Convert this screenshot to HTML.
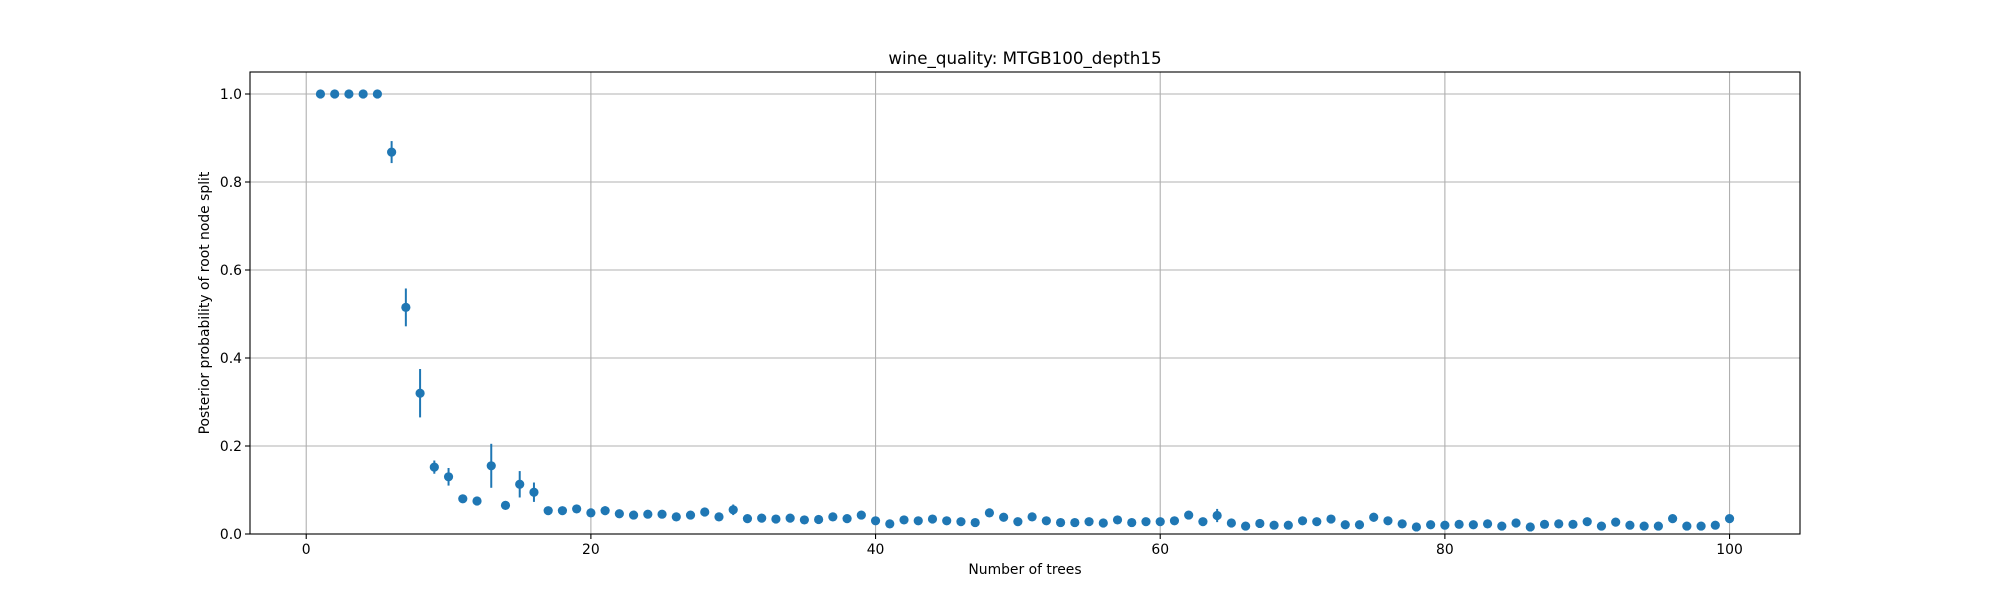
<!DOCTYPE html>
<html><head><meta charset="utf-8"><style>
body{margin:0;background:#fff;}
svg text{font-family:"DejaVu Sans","Liberation Sans",sans-serif;fill:#000;}
</style></head><body>
<svg id="chart" width="2000" height="600" xmlns="http://www.w3.org/2000/svg">
<rect width="2000" height="600" fill="#fff"/>
<g id="grid"></g>
<g id="marks"></g>
<rect x="250" y="72" width="1550" height="462" fill="none" stroke="#000" stroke-width="1.1"/>
<g id="ticks"></g>
<text x="1025" y="64" font-size="16.7" text-anchor="middle">wine_quality: MTGB100_depth15</text>
<text x="1025" y="574" font-size="13.9" text-anchor="middle">Number of trees</text>
<text transform="translate(209,303) rotate(-90)" font-size="13.9" text-anchor="middle">Posterior probability of root node split</text>
</svg>
<script>
const xTicks=[0,20,40,60,80,100];
const yTicks=[0.0,0.2,0.4,0.6,0.8,1.0];
const yTickLabels=["0.0","0.2","0.4","0.6","0.8","1.0"];
const probs=[1,1,1,1,1,0.868,0.515,0.32,0.152,0.13,0.08,0.075,0.155,0.065,0.113,0.095,0.053,0.053,0.057,0.048,
0.053,0.046,0.043,0.045,0.045,0.039,0.043,0.05,0.039,0.055,0.035,0.036,0.034,0.036,0.032,0.033,0.039,0.035,0.043,0.03,
0.023,0.032,0.03,0.034,0.03,0.028,0.026,0.048,0.038,0.028,0.039,0.03,0.026,0.026,0.028,0.025,0.032,0.026,0.028,0.028,
0.03,0.043,0.028,0.042,0.025,0.018,0.024,0.02,0.02,0.03,0.028,0.034,0.021,0.021,0.038,0.03,0.023,0.016,0.021,0.02,
0.022,0.021,0.023,0.018,0.025,0.016,0.022,0.023,0.022,0.028,0.018,0.027,0.02,0.018,0.018,0.035,0.018,0.018,0.02,0.035];
const errs=[0,0,0,0,0,0.025,0.043,0.055,0.015,0.02,0.004,0.004,0.05,0.004,0.03,0.022,0.004,0.004,0.004,0.004,
0.01,0.004,0.004,0.004,0.005,0.004,0.004,0.006,0.004,0.012,0.004,0.004,0.004,0.004,0.004,0.004,0.004,0.004,0.005,0.004,
0.004,0.004,0.004,0.004,0.004,0.004,0.004,0.005,0.008,0.004,0.004,0.004,0.004,0.004,0.004,0.004,0.004,0.004,0.004,0.004,
0.004,0.005,0.004,0.015,0.004,0.004,0.004,0.004,0.004,0.004,0.004,0.004,0.004,0.004,0.01,0.004,0.004,0.004,0.004,0.004,
0.004,0.004,0.004,0.004,0.004,0.004,0.004,0.004,0.004,0.004,0.004,0.004,0.004,0.004,0.004,0.008,0.004,0.004,0.004,0.005];
const NS="http://www.w3.org/2000/svg";
const L=250,R=1800,T=72,B=534,xmin=-3.95,xmax=104.95,ymin=0,ymax=1.05;
const xs=v=>L+(v-xmin)/(xmax-xmin)*(R-L);
const ys=v=>B-(v-ymin)/(ymax-ymin)*(B-T);
function mk(tag,attrs,parent){const e=document.createElementNS(NS,tag);for(const k in attrs)e.setAttribute(k,attrs[k]);parent.appendChild(e);return e;}
const grid=document.getElementById('grid'),ticks=document.getElementById('ticks'),marks=document.getElementById('marks');
xTicks.forEach(t=>{const x=xs(t);
 const g=mk('line',{x1:x,x2:x,y1:T,y2:B,stroke:'#b0b0b0','stroke-width':1.1},grid);
 
 
 const tk=mk('line',{x1:x,x2:x,y1:B,y2:B+5,stroke:'#000','stroke-width':1.1},ticks);
 
 
 const tx=mk('text',{x:x,y:B+20,'font-size':13.9,'text-anchor':'middle'},ticks);tx.textContent=t;
 
 
});
yTicks.forEach((t,i)=>{const y=ys(t);
 const g=mk('line',{x1:L,x2:R,y1:y,y2:y,stroke:'#b0b0b0','stroke-width':1.1},grid);
 
 
 const tk=mk('line',{x1:L-5,x2:L,y1:y,y2:y,stroke:'#000','stroke-width':1.1},ticks);
 
 
 const tx=mk('text',{x:L-8,y:y+5,'font-size':13.9,'text-anchor':'end'},ticks);tx.textContent=yTickLabels[i];
 
 
});
probs.forEach((p,i)=>{const n=i+1,x=xs(n),e=errs[i];
 if(e>0){const l=mk('line',{x1:x,x2:x,y1:ys(p-e),y2:ys(p+e),stroke:'#1f77b4','stroke-width':2},marks);
 
 }
 const c=mk('circle',{cx:x,cy:ys(p),r:4.6,fill:'#1f77b4'},marks);
 
 
});
</script>
</body></html>
